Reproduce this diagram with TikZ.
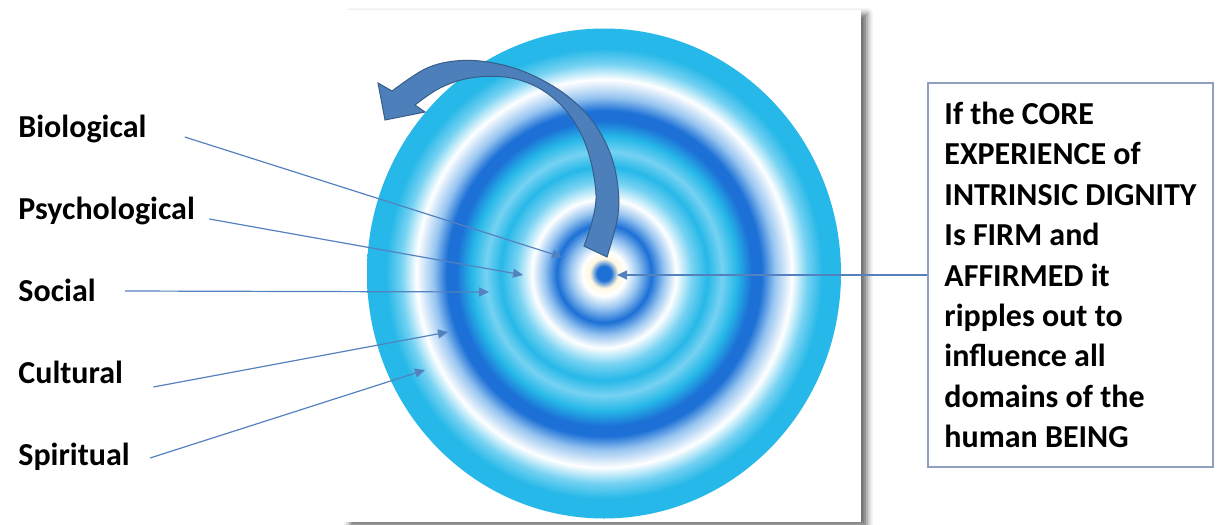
\documentclass[tikz,border=0pt]{standalone}
\usepackage{fontspec}
\setmainfont{Carlito}
\usetikzlibrary{
    arrows.meta,
    positioning,
    calc,
    shadows.blur
}
\definecolor{RingDark}{RGB}{28,112,214}
\definecolor{RingCyan}{RGB}{38,184,232}
\definecolor{RingSoft}{RGB}{118,210,242}
\definecolor{RingPale}{RGB}{150,196,240}
\definecolor{RingCream}{RGB}{255,247,222}
\definecolor{ArrowFill}{RGB}{77,127,187}
\definecolor{ArrowEdge}{RGB}{56,93,138}
\definecolor{LineBlue}{RGB}{84,130,190}
\definecolor{BoxEdge}{RGB}{141,160,192}
\pgfdeclareradialshading{ripple}{\pgfpoint{0bp}{0bp}}{%
  color(0bp)=(RingDark); color(0.75bp)=(RingDark);
  color(1.5bp)=(RingCream); color(2.3bp)=(white);
  color(3.6bp)=(RingPale); color(5bp)=(RingDark);
  color(6.3bp)=(RingPale); color(7.6bp)=(white);
  color(9.3bp)=(RingSoft); color(10.9bp)=(RingCyan);
  color(12.45bp)=(RingSoft); color(14bp)=(RingCyan);
  color(15.6bp)=(RingDark); color(16.6bp)=(RingDark);
  color(18bp)=(RingPale); color(19.8bp)=(white);
  color(21.4bp)=(RingSoft); color(23bp)=(RingCyan);
  color(25bp)=(RingCyan); color(50bp)=(RingCyan)}
\tikzset{
  lbl/.style     = {font=\fontsize{16}{20}\selectfont\bfseries, inner sep=0pt,
                    text height=12pt, text depth=3.5pt, anchor=base west},
  infobox/.style = {draw=BoxEdge, line width=0.7pt, align=left,
                    font=\fontsize{16}{20.2}\selectfont\bfseries,
                    minimum width=142.5pt, minimum height=192pt}
}

\begin{document}
\begin{tikzpicture}[
    x=0.5pt, y=-0.5pt,
    conn/.style={-{Triangle[length=5pt, width=4.5pt]}, LineBlue, line width=0.6pt},
    bigarrow/.style={fill=ArrowFill, draw=ArrowEdge, line width=0.5pt}
]
\useasboundingbox (0,0) rectangle (1217,525);

% page with the ripples
\fill[white, blur shadow={shadow xshift=3pt, shadow yshift=-2pt,
      shadow blur radius=3pt, shadow opacity=60}] (344,10) rectangle (861,522);
\shade[shading=ripple] (604,273.5) ellipse (237 and 245);

% curved arrow out of the core
\filldraw[bigarrow] (584,246) -- plot[smooth, tension=0.6] coordinates {
    (607,257) (618,215) (617,180) (608,148) (590,118) (562,92)
    (525,72) (488,62) (455,61) (425,69) (392,91)}
  -- (378,83) -- (385,120) -- (425,112)
  -- plot[smooth, tension=0.6] coordinates {
    (415,105) (440,88) (470,78) (505,77) (535,86) (560,104)
    (578,128) (590,158) (596,195) (592,222) (584,246)} -- cycle;

% domains
\node[lbl] (bio) at (18,137) {Biological};
\node[lbl, below=25.1pt of bio.south west, anchor=north west] (psy) {Psychological};
\node[lbl, below=25.1pt of psy.south west, anchor=north west] (soc) {Social};
\node[lbl, below=25.1pt of soc.south west, anchor=north west] (cul) {Cultural};
\node[lbl, below=25.1pt of cul.south west, anchor=north west] (spi) {Spiritual};

\coordinate (bioS) at ($(bio.base east)+(38,0)$);
\coordinate (psyS) at ($(psy.base east)+(14,0)$);
\coordinate (socS) at ($(soc.base east)+(29,-10)$);
\coordinate (culS) at ($(cul.base east)+(30,4)$);
\coordinate (spiS) at ($(spi.base east)+(20,-7)$);

\coordinate (bioT) at (562,257);
\coordinate (psyT) at (523,275);
\coordinate (socT) at (489,292);
\coordinate (culT) at (448,332);
\coordinate (spiT) at (425,370);

\draw[conn] (bioS) -- (bioT);
\draw[conn] (psyS) -- (psyT);
\draw[conn] (socS) -- (socT);
\draw[conn] (culS) -- (culT);
\draw[conn] (spiS) -- (spiT);

% explanation
\node[infobox] (core) at (1070.5,275) {If the CORE\\ EXPERIENCE of\\
    INTRINSIC DIGNITY\\ Is FIRM and\\ AFFIRMED it\\ ripples out to\\
    influence all\\ domains of the\\ human BEING};
\coordinate (coreT) at (617,275);
\draw[conn] (core.west) -- (coreT);
\end{tikzpicture}
\end{document}
